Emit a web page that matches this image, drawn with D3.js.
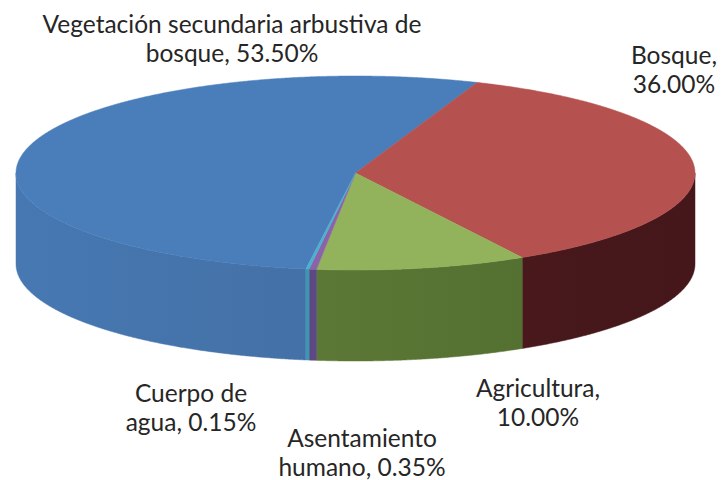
<!DOCTYPE html>
<html>
<head>
<meta charset="utf-8">
<script src="https://cdn.jsdelivr.net/npm/d3@7"></script>
<style>
  body { margin: 0; background: #fff; }
  text { font-family: Lato, "Open Sans", sans-serif; fill: #262626; }
</style>
</head>
<body>
<svg id="chart" width="721" height="480"></svg>
<script>
// data
const categories = ["Vegetación secundaria arbustiva de bosque", "Bosque", "Agricultura", "Asentamiento humano", "Cuerpo de agua"];
const values = [53.5, 36.0, 10.0, 0.35, 0.15];
const labelLines = [
    ["Vegetación secundaria arbustiva de", "bosque, 53.50%"],
    ["Bosque,", "36.00%"],
    ["Agricultura,", "10.00%"],
    ["Asentamiento", "humano, 0.35%"],
    ["Cuerpo de", "agua, 0.15%"]
];

// styles
const topColors = ["#4A7EBB", "#B5514F", "#92B35C", "#8A64A8", "#4BB0CF"];
const sideColors = [["#4778B2", "#3F6797"], ["#521D20", "#45171A"], ["#64823C", "#4F6B2E"], ["#5C4882", "#5C4882"], ["#3F96B2", "#3F96B2"]];
// label anchor (baseline of first line)
const labelPos = [[232, 33], [674, 64], [538, 397], [362, 447], [191, 402]];

function MakeChart() {
    const svg = d3.select("#chart");
    svg.selectAll("*").remove();

    const cx = 355.5, cy = 173, rx = 339.5, ry = 97, depth = 91;
    const startDeg = 21 - 360 * values[0] / 100; // bosque slice starts at ~21deg

    const pie = d3.pie().sort(null)
        .startAngle(startDeg * Math.PI / 180)
        .endAngle(startDeg * Math.PI / 180 + 2 * Math.PI);
    const arcs = pie(values);

    const pt = (a, dz) => [cx + rx * Math.sin(a), cy - ry * Math.cos(a) + dz];
    const arcPts = (a0, a1, dz) => {
        const n = Math.max(2, Math.ceil(Math.abs(a1 - a0) / 0.005));
        return d3.range(n + 1).map(i => pt(a0 + (a1 - a0) * i / n, dz));
    };

    const defs = svg.append("defs");
    const g = svg.append("g");

    // sides (front half only)
    arcs.forEach((d, i) => {
        const grad = defs.append("linearGradient")
            .attr("id", "side" + i)
            .attr("gradientUnits", "userSpaceOnUse")
            .attr("x1", cx - rx).attr("x2", cx + rx)
            .attr("y1", 0).attr("y2", 0);
        grad.append("stop").attr("offset", 0).attr("stop-color", sideColors[i][0]);
        grad.append("stop").attr("offset", 1).attr("stop-color", sideColors[i][1]);

        [-1, 0, 1].forEach(k => {
            const s0 = Math.max(d.startAngle, Math.PI / 2 + 2 * Math.PI * k);
            const s1 = Math.min(d.endAngle, 3 * Math.PI / 2 + 2 * Math.PI * k);
            if (s1 <= s0) return;
            const pts = arcPts(s0, s1, 0).concat(arcPts(s1, s0, depth));
            g.append("path")
                .attr("d", d3.line()(pts) + "Z")
                .attr("fill", "url(#side" + i + ")")
                .attr("stroke", "url(#side" + i + ")")
                .attr("stroke-width", 0.5);
        });
    });

    // top faces
    arcs.forEach((d, i) => {
        const pts = [[cx, cy]].concat(arcPts(d.startAngle, d.endAngle, 0));
        g.append("path")
            .attr("d", d3.line()(pts) + "Z")
            .attr("fill", topColors[i])
            .attr("stroke", topColors[i])
            .attr("stroke-width", 0.5);
    });

    // labels
    labelLines.forEach((lines, i) => {
        const t = svg.append("text")
            .attr("x", labelPos[i][0])
            .attr("y", labelPos[i][1])
            .attr("text-anchor", "middle")
            .attr("font-size", 24.5);
        lines.forEach((s, j) => {
            t.append("tspan")
                .attr("x", labelPos[i][0])
                .attr("dy", j === 0 ? 0 : 29)
                .text(s);
        });
    });
}

MakeChart();
</script>
</body>
</html>
